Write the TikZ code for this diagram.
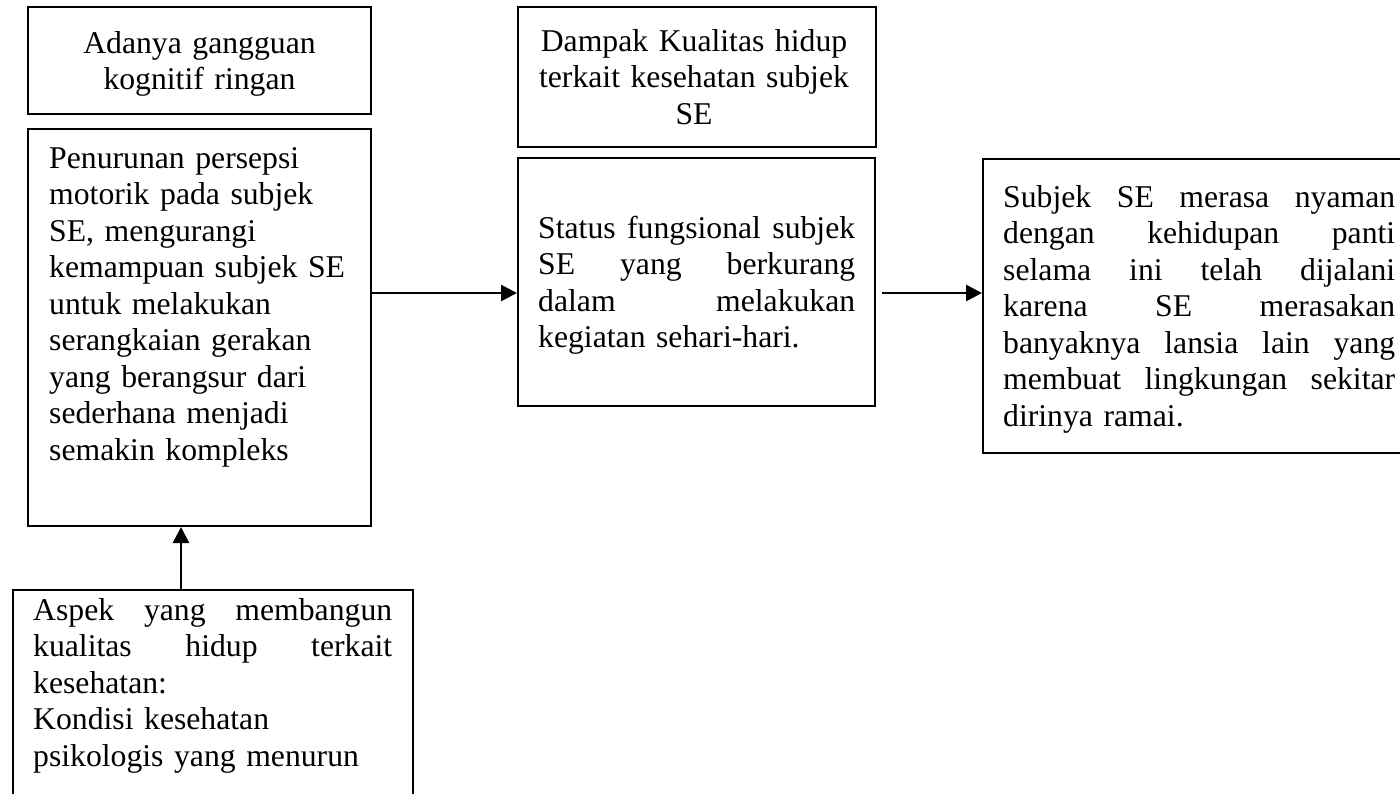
\documentclass[tikz,border=0pt]{standalone}
\usepackage{fontspec}
\setmainfont{Liberation Serif}
\usetikzlibrary{arrows.meta}
\newcommand{\jl}[2]{\leavevmode\hbox to #1{#2}}
\begin{document}
\begin{tikzpicture}[x=1pt,y=-1pt,
  rbox/.style={draw=black, line width=2pt, rectangle, inner sep=0pt},
  tbox/.style={inner sep=0pt, font=\fontsize{31.7}{36.5}\selectfont},
  conn/.style={line width=2.8pt, -{Triangle[length=16pt,width=16pt]}}]
\clip (0,0) rectangle (1400,793);
\fill[white] (0,0) rectangle (1400,793);
% boxes
\node[rbox, minimum width=343pt, minimum height=107pt] (boxA) at (199.5,60.5) {};
\node[rbox, minimum width=343pt, minimum height=397pt] (boxB) at (199.5,327.5) {};
\node[rbox, minimum width=400pt, minimum height=220pt] (boxC) at (213,700) {};
\node[rbox, minimum width=358pt, minimum height=140pt] (boxD) at (697,77) {};
\node[rbox, minimum width=357pt, minimum height=248pt] (boxE) at (696.5,282) {};
\node[rbox, minimum width=429pt, minimum height=294pt] (boxF) at (1197.5,306) {};
% texts
\node[tbox, anchor=north, text width=343pt, align=center] (tA) at (199.5,27.45)
  {\strut Adanya gangguan\\ kognitif ringan};
\node[tbox, anchor=north west, text width=315pt, align=left] (tB) at (49,142.45)
  {\strut Penurunan persepsi\\ motorik pada subjek\\ SE, mengurangi\\ kemampuan subjek SE\\ untuk melakukan\\ serangkaian gerakan\\ yang berangsur dari\\ sederhana menjadi\\ semakin kompleks};
\node[tbox, anchor=north west, text width=359pt, align=left] (tC) at (33,594.45)
  {\jl{359pt}{\strut Aspek\hfill yang\hfill membangun}\\ \jl{359pt}{kualitas\hfill hidup\hfill terkait}\\ kesehatan:\\ Kondisi kesehatan\\ psikologis yang menurun};
\node[tbox, anchor=north, text width=358pt, align=center] (tD) at (694,25.45)
  {\strut Dampak Kualitas hidup\\ terkait kesehatan subjek\\ SE};
\node[tbox, anchor=north west, text width=317pt, align=left] (tE) at (538,212.45)
  {\jl{317pt}{\strut Status\hfill fungsional\hfill subjek}\\ \jl{317pt}{SE\hfill yang\hfill berkurang}\\ \jl{317pt}{dalam\hfill melakukan}\\ kegiatan sehari-hari.};
\node[tbox, anchor=north west, text width=392pt, align=left] (tF) at (1003,181.45)
  {\jl{392pt}{\strut Subjek\hfill SE\hfill merasa\hfill nyaman}\\ \jl{392pt}{dengan\hfill kehidupan\hfill panti}\\ \jl{392pt}{selama\hfill ini\hfill telah\hfill dijalani}\\ \jl{392pt}{karena\hfill SE\hfill merasakan}\\ \jl{392pt}{banyaknya\hfill lansia\hfill lain\hfill yang}\\ \jl{392pt}{membuat\hfill lingkungan\hfill sekitar}\\ dirinya ramai.};
% connectors
\draw[conn] (boxB.east |- 0,293) -- (boxE.west |- 0,293);
\draw[conn, shorten <=6pt] (boxE.east |- 0,293) -- (boxF.west |- 0,293);
\draw[conn] (boxC.north -| 181,0) -- (boxB.south -| 181,0);
\end{tikzpicture}
\end{document}
